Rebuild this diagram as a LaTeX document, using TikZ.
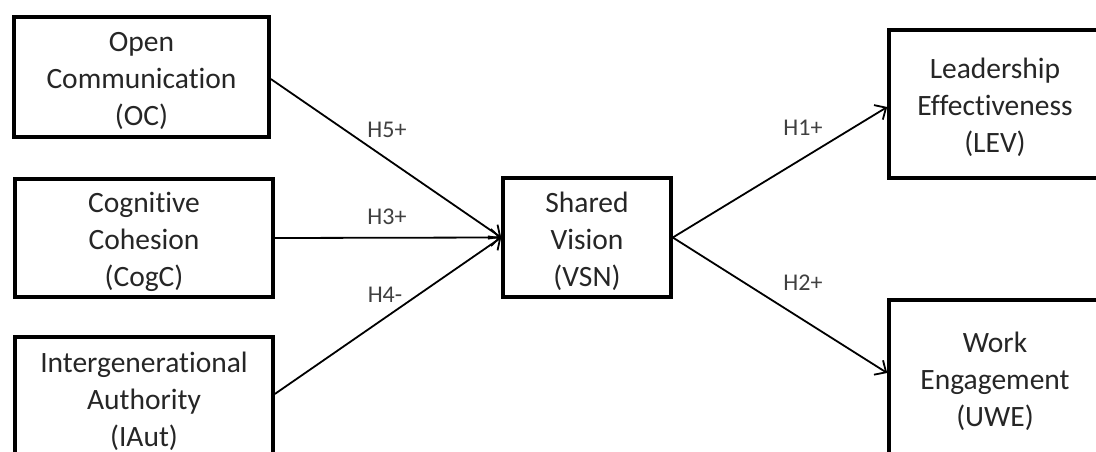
\documentclass[tikz,border=0pt]{standalone}
\usepackage{fontspec}
\setmainfont{Carlito}[Ligatures={NoCommon}]
\usetikzlibrary{arrows.meta}
\begin{document}
\begin{tikzpicture}[x=1pt,y=-1pt,
  box/.style={draw=black, line width=3.6pt, rectangle, inner sep=0pt},
  boxtext/.style={align=center, text=black!85, inner sep=0pt,
    font=\fontsize{29.5}{37}\selectfont, yshift=-3.5pt},
  hlabel/.style={text=black!75, font=\fontsize{24}{28}\selectfont, inner sep=0pt},
  conn/.style={draw=black, line width=1.8pt, -{Straight Barb[length=9pt,width=17pt,line width=1.8pt]}}]
\useasboundingbox (0,0) rectangle (1096,452);
\clip (0,0) rectangle (1096,452);
\fill[white] (0,0) rectangle (1096,452);

\node[box, minimum width=255pt, minimum height=120pt,
  label={[boxtext]center:Open\\Communication\\(OC)}] (OC) at (141.5,77) {};
\node[box, minimum width=258pt, minimum height=118pt,
  label={[boxtext]center:Cognitive\\Cohesion\\(CogC)}] (CogC) at (144,238) {};
\node[box, minimum width=258pt, minimum height=122pt,
  label={[boxtext]center:Intergenerational\\Authority\\(IAut)}] (IAut) at (144,398) {};
\node[box, minimum width=168pt, minimum height=119pt,
  label={[boxtext]center:Shared\\Vision\\(VSN)}] (VSN) at (587,237.5) {};
\node[box, minimum width=212pt, minimum height=148pt,
  label={[boxtext]center:Leadership\\Effectiveness\\(LEV)}] (LEV) at (995,104) {};
\node[box, minimum width=212pt, minimum height=156pt,
  label={[boxtext]center:Work\\Engagement\\(UWE)}] (UWE) at (995,378) {};

\draw[conn] ([yshift=-2pt]OC.east) -- (VSN.west);
\draw[conn] (CogC.east) -- (VSN.west);
\draw[conn] ([yshift=4pt]IAut.east) -- (VSN.west);
\draw[conn] (VSN.east) -- ([yshift=-3pt]LEV.west);
\draw[conn] (VSN.east) -- ([yshift=5pt]UWE.west);

\node[hlabel] (h5) at (387,130) {H5+};
\node[hlabel] (h3) at (387,217) {H3+};
\node[hlabel] (h4) at (385,295) {H4-};
\node[hlabel] (h1) at (803,128) {H1+};
\node[hlabel] (h2) at (803,283) {H2+};
\end{tikzpicture}
\end{document}
